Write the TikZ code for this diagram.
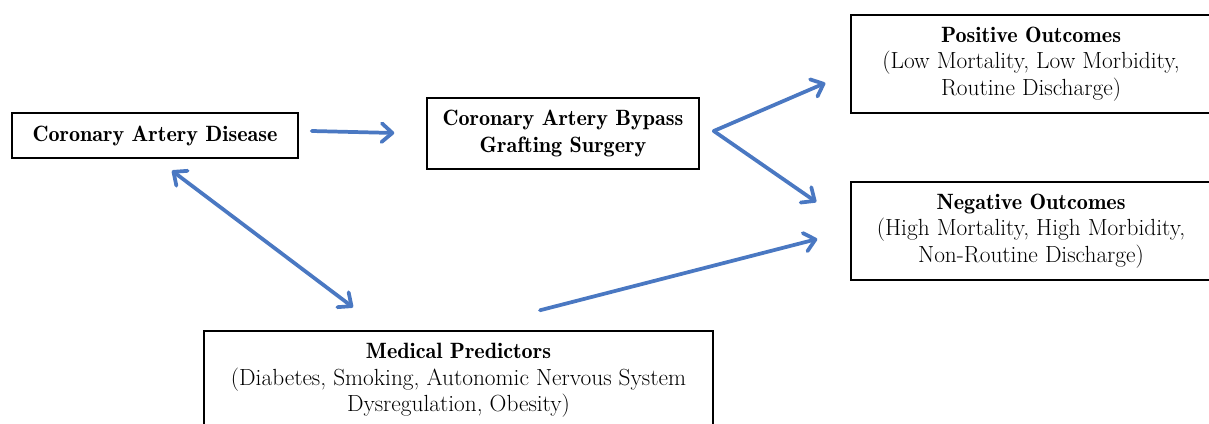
\documentclass[tikz,border=0pt]{standalone}
\usetikzlibrary{arrows.meta,calc}
\definecolor{arrowblue}{HTML}{4A78C2}
\newcommand\boxtitle[1]{{\fontseries{b}\fontsize{16.6}{19.9}\selectfont #1}}
\begin{document}
\begin{tikzpicture}[x=0.75pt,y=-0.75pt,
  box/.style={draw=black,line width=1.1pt,align=center,inner sep=0pt,
    font=\fontsize{17.5}{19.9}\selectfont},
  conn/.style={draw=arrowblue,line width=2.8pt,line cap=round,
    -{Straight Barb[length=8pt,width=14pt,line cap=round,line join=round]}},
  bconn/.style={conn,{Straight Barb[length=8pt,width=14pt,line cap=round,line join=round]}-{Straight Barb[length=8pt,width=14pt,line cap=round,line join=round]}}]
\useasboundingbox (0,0) rectangle (1209,424);
\clip (0,0) rectangle (1209,424);
\fill[white] (0,0) rectangle (1209,424);

\node[box,minimum width=214.5pt,minimum height=33.75pt] (cad) at (155,135.5)
  {\boxtitle{Coronary Artery Disease}};
\node[box,minimum width=204pt,minimum height=53.25pt] (cabg) at (563,133.5)
  {\boxtitle{Coronary Artery Bypass}\\\boxtitle{Grafting Surgery}};
\node[box,minimum width=270pt,minimum height=73.5pt] (pos) at (1031,64)
  {\boxtitle{Positive Outcomes}\\(Low Mortality, Low Morbidity,\\Routine Discharge)};
\node[box,minimum width=270pt,minimum height=73.5pt] (neg) at (1031,231)
  {\boxtitle{Negative Outcomes}\\(High Mortality, High Morbidity,\\Non-Routine Discharge)};
\node[box,minimum width=381.75pt,minimum height=74.25pt] (med) at (458.5,380.5)
  {\boxtitle{Medical Predictors}\\(Diabetes, Smoking, Autonomic Nervous System\\Dysregulation, Obesity)};

\draw[conn] ([shift={(13,-4.5)}]cad.east) -- ([shift={(-32,-0.5)}]cabg.west);
\draw[conn] ([shift={(14,-2.5)}]cabg.east) -- ([shift={(-25,19)}]pos.west);
\draw[conn] ([shift={(14,-2.5)}]cabg.east) -- ([shift={(-34,-29)}]neg.west);
\draw[bconn] ([shift={(17,12)}]cad.south) -- ([shift={(-105.5,-23)}]med.north);
\draw[conn] ([shift={(81.5,-20)}]med.north) -- ([shift={(-33,8)}]neg.west);
\end{tikzpicture}
\end{document}
